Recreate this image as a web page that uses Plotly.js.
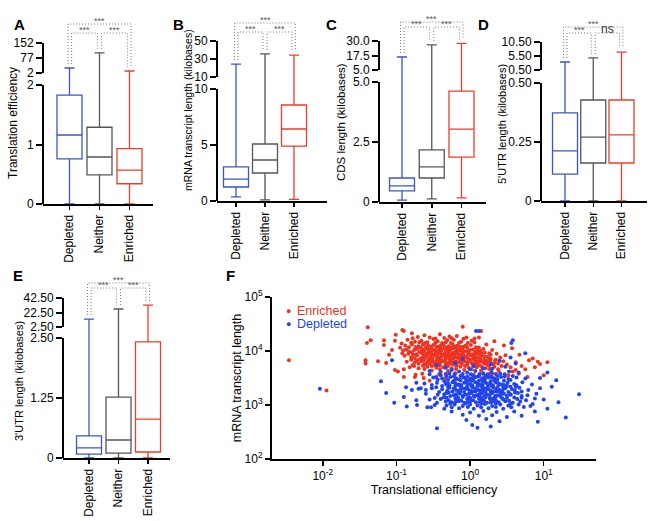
<!DOCTYPE html>
<html>
<head>
<meta charset="utf-8">
<script src="https://cdn.plot.ly/plotly-3.0.1.min.js"></script>
<style>
html, body { margin: 0; padding: 0; background: #fff; }
#chart { width: 654px; height: 521px; }
</style>
</head>
<body>
<div id="chart"></div>
<script>
const W = 654, H = 521;
const FONT = 'Liberation Sans, Arial, Helvetica, sans-serif';

const groups = ['Depleted', 'Neither', 'Enriched'];
const groupColors = ['#3a56c8', '#555555', '#e8402d'];

// box stats per group: [lower whisker, q1, median, q3, upper whisker]
const translationEff = [[0, 0.76, 1.16, 1.83, 27], [0, 0.49, 0.79, 1.29, 103], [0, 0.34, 0.57, 0.93, 12]];
const transcriptLen = [[0.36, 1.25, 1.96, 3.04, 24.4], [0.1, 2.5, 3.66, 5.09, 35.6], [0.15, 4.9, 6.43, 8.57, 34.4]];
const cdsLen = [[0.08, 0.46, 0.67, 1.0, 16.2], [0.13, 1.0, 1.46, 2.17, 26.6], [0.17, 1.87, 3.04, 4.62, 28.0]];
const utr5Len = [[0, 0.114, 0.212, 0.373, 3.36], [0, 0.161, 0.271, 0.428, 4.8], [0, 0.161, 0.28, 0.428, 6.9]];
const utr3Len = [[0, 0.08, 0.21, 0.46, 13.5], [0, 0.10, 0.375, 1.27, 27.3], [0, 0.125, 0.81, 2.42, 32.8]];

// tick labels: [lower segment, upper segment] of each broken axis
const teTicks = [['0', '1', '2'], ['2', '77', '152']];
const transcriptTicks = [['0', '5', '10'], ['10', '30', '50']];
const cdsTicks = [['0', '2.5', '5.0'], ['5.0', '17.5', '30.0']];
const utr5Ticks = [['0', '0.25', '0.50'], ['0.50', '5.50', '10.50']];
const utr3Ticks = [['0', '1.25', '2.50'], ['2.50', '22.50', '42.50']];

// significance: outer (Depleted-Enriched), Depleted-Neither, Neither-Enriched
const sigA = ['***', '***', '***'];
const sigB = ['***', '***', '***'];
const sigC = ['***', '***', '***'];
const sigD = ['***', '***', 'ns'];
const sigE = ['***', '***', '***'];

// panel F, log10 values: [translational efficiency, transcript length]
const enrichedName = 'Enriched';
const depletedName = 'Depleted';
const enrichedLog = [
  [-2.46,3.83],[-1.95,3.27],[-1.39,4.44],[-1.35,4.20],[-1.40,4.15],[-1.42,3.83],[-1.42,3.77],[-1.25,3.81],
  [-1.17,4.20],[-1.17,4.11],[-1.14,3.78],[-1.10,3.93],[-1.06,4.02],[-1.02,4.19],[-1.01,4.30],[-1.02,3.65],
  [-0.98,3.62],[-0.92,4.39],[-0.90,4.37],[-0.79,4.33],[-0.92,3.96],[-0.90,3.52],[-0.74,3.56],[-0.63,3.50],
  [-0.10,4.45],[0.15,4.37],[1.05,3.79],[0.92,3.80],[0.85,3.86],[0.67,3.93],[0.62,3.65],[0.88,3.70],
  [0.95,3.76],[1.00,3.55],[0.78,3.52],
  [-0.62,4.29],[-0.41,4.31],[-0.28,4.27],[-0.55,4.25],[-0.18,4.28],[-0.71,4.26],[-0.35,4.24],[-0.05,4.25],
  [-0.85,4.21],[-0.66,4.19],[-0.50,4.22],[-0.44,4.18],[-0.31,4.20],[-0.22,4.21],[-0.12,4.17],[-0.58,4.16],
  [-0.75,4.17],[-0.38,4.15],[0.02,4.19],[-0.93,4.14],
  [-0.88,4.10],[-0.79,4.12],[-0.70,4.09],[-0.63,4.13],[-0.57,4.10],[-0.49,4.12],[-0.43,4.08],[-0.36,4.11],
  [-0.29,4.09],[-0.24,4.13],[-0.17,4.10],[-0.09,4.08],[0.01,4.11],[0.08,4.07],[-0.67,4.06],[-0.53,4.05],
  [-0.40,4.04],[-0.19,4.05],[-0.95,4.06],
  [-0.91,4.01],[-0.83,3.99],[-0.76,4.02],[-0.69,3.98],[-0.62,4.01],[-0.56,3.99],[-0.50,4.02],[-0.45,3.98],
  [-0.39,4.01],[-0.33,3.99],[-0.27,4.02],[-0.21,3.98],[-0.14,4.01],[-0.07,3.99],[0.00,4.02],[0.07,3.98],
  [0.14,4.00],[-0.59,3.95],[-0.47,3.96],[-0.35,3.95],[-0.24,3.96],[-0.11,3.95],[0.03,3.94],[-0.73,3.94],
  [-0.84,3.95],
  [-0.89,3.91],[-0.80,3.89],[-0.72,3.92],[-0.65,3.88],[-0.60,3.91],[-0.54,3.89],[-0.48,3.92],[-0.42,3.88],
  [-0.37,3.91],[-0.31,3.89],[-0.26,3.92],[-0.19,3.88],[-0.13,3.91],[-0.06,3.89],[0.01,3.92],[0.08,3.88],
  [0.16,3.91],[0.24,3.89],[-0.68,3.85],[-0.57,3.84],[-0.45,3.85],[-0.34,3.84],[-0.23,3.86],[-0.10,3.84],
  [0.04,3.85],[0.19,3.84],[-0.80,3.84],
  [-0.86,3.80],[-0.75,3.79],[-0.66,3.81],[-0.59,3.78],[-0.51,3.80],[-0.44,3.79],[-0.38,3.81],[-0.30,3.78],
  [-0.22,3.80],[-0.15,3.79],[-0.07,3.81],[0.02,3.78],[0.10,3.80],[0.18,3.79],[0.27,3.81],[-0.62,3.75],
  [-0.48,3.74],[-0.33,3.75],[-0.18,3.74],[-0.04,3.75],[0.12,3.74],[0.30,3.76],[-0.78,3.74],
  [-0.82,3.70],[-0.70,3.68],[-0.58,3.71],[-0.46,3.69],[-0.36,3.70],[-0.25,3.68],[-0.13,3.71],[-0.02,3.69],
  [0.09,3.70],[0.21,3.68],[0.33,3.71],[-0.52,3.64],[-0.30,3.63],[-0.08,3.65],[0.15,3.64],[0.38,3.66],
  [-0.90,3.66],
  [-0.65,3.58],[-0.42,3.57],[-0.20,3.59],[0.05,3.56],[0.27,3.58],[-0.75,3.52],[-0.33,3.50],[0.18,3.52],
  [-0.55,3.45],
  [0.30,4.02],[0.36,3.95],[0.41,3.88],[0.45,3.81],[0.50,3.75],[0.55,3.70],[0.35,3.84],[0.26,3.96],
  [0.43,3.72],[0.58,3.62],[0.48,3.92],[0.62,3.79],[0.70,3.72],[0.66,3.58],[0.75,3.66],[0.52,3.55],
  [0.39,3.63],[0.30,3.58],[0.80,3.83],[0.57,4.05],[0.22,4.12],[0.33,4.18],[0.12,4.25],[0.46,4.10],
  [-0.80,4.155],[-0.69,4.16],[-0.61,4.15],[-0.47,4.155],[-0.33,4.16],[-0.26,4.15],[-0.15,4.155],[-0.03,4.15],
  [0.06,4.16],[-0.83,4.07],[-0.74,4.075],[-0.60,4.07],[-0.46,4.075],[-0.33,4.07],[-0.26,4.06],[-0.13,4.075],
  [-0.04,4.07],[0.12,4.065],[-0.87,4.03],[-0.72,4.035],[-0.65,4.03],[-0.53,4.035],[-0.42,4.03],[-0.30,4.035],
  [-0.17,4.03],[-0.10,4.035],[0.04,4.03],[0.18,4.035],[-0.79,3.97],[-0.66,3.965],[-0.53,3.97],[-0.41,3.965],
  [-0.29,3.97],[-0.17,3.965],[-0.02,3.97],[0.10,3.965],[0.20,3.97],[-0.77,3.93],[-0.63,3.935],[-0.51,3.93],
  [-0.39,3.935],[-0.28,3.93],[-0.16,3.935],[-0.03,3.93],[0.12,3.935],[0.28,3.93],[-0.75,3.865],[-0.62,3.87],
  [-0.51,3.865],[-0.40,3.87],[-0.29,3.865],[-0.16,3.87],[-0.03,3.865],[0.11,3.87],[0.26,3.865],[-0.72,3.825],
  [-0.63,3.82],[-0.52,3.825],[-0.41,3.82],[-0.27,3.825],[-0.13,3.82],[0.07,3.825],[0.22,3.82],[0.34,3.825],
  [-0.70,3.765],[-0.55,3.77],[-0.41,3.765],[-0.26,3.77],[-0.11,3.765],[0.05,3.77],[0.20,3.765],[0.38,3.77],
  [-0.76,3.72],[-0.64,3.725],[-0.52,3.72],[-0.41,3.725],[-0.30,3.72],[-0.19,3.725],[-0.07,3.72],[0.04,3.725],
  [0.15,3.72],[0.26,3.725],[-0.62,3.665],[-0.41,3.66],[-0.19,3.665],[0.02,3.66],[0.26,3.665],[-0.78,4.235],
  [-0.47,4.23],[-0.25,4.235],[-0.09,4.225],[0.06,4.23],
  [-0.64,4.115],[-0.52,4.09],[-0.40,4.095],[-0.21,4.09],[-0.06,4.10],[-0.58,4.045],[-0.47,4.015],[-0.35,4.05],
  [-0.24,4.045],[-0.13,4.045],[-0.03,4.005],[-0.63,3.985],[-0.42,3.98],[-0.30,4.005],[-0.18,3.99],[-0.10,3.975],
  [-0.56,3.945],[-0.44,3.95],[-0.32,3.925],[-0.21,3.945],[-0.09,3.925],[0.07,3.945],[-0.59,3.90],[-0.45,3.905],
  [-0.33,3.875],[-0.22,3.90],[-0.09,3.875],[0.04,3.90],[-0.54,3.855],[-0.40,3.845],[-0.27,3.85],[-0.13,3.855],
  [0.00,3.835],[0.14,3.855],[-0.57,3.805],[-0.46,3.81],[-0.34,3.795],[-0.19,3.805],[-0.03,3.795],[0.14,3.81],
  [-0.48,3.785],[-0.23,3.755],[0.08,3.755],[0.23,3.80],[0.20,3.90],[0.16,3.96],[0.10,4.01],[0.28,3.85],
  [0.33,3.78],[0.24,3.74]
];
const depletedLog = [
  [-2.04,3.30],[-1.21,3.44],[-1.14,3.22],[-1.03,3.04],[-1.06,3.83],[-0.87,3.33],[-0.73,3.09],[-0.72,3.00],
  [-0.58,2.96],[-0.53,2.96],[-0.45,2.57],[-0.67,3.31],[-0.60,3.28],[-0.52,3.37],[-0.46,3.52],[-0.79,3.28],
  [-0.73,3.41],[1.48,3.20],[1.30,2.77],[1.17,3.46],[1.11,3.34],[1.05,2.93],[0.92,2.69],[0.08,4.37],
  [0.12,4.37],[0.58,4.20],[0.56,4.15],[0.75,3.96],[0.03,2.63],[0.28,2.60],[0.10,2.58],[1.00,3.10],
  [1.05,3.60],[0.95,3.50],[0.88,2.88],[-0.90,3.15],[-0.86,2.97],[0.70,2.80],[0.85,3.02],[1.20,3.05],
  [-0.45,3.74],[-0.20,3.78],[0.05,3.72],[0.28,3.76],[0.48,3.71],[-0.33,3.69],[0.18,3.68],[0.62,3.77],
  [0.40,3.82],[-0.10,3.85],[0.55,3.88],
  [-0.40,3.61],[-0.28,3.59],[-0.15,3.62],[-0.04,3.60],[0.07,3.63],[0.18,3.59],[0.29,3.61],[0.41,3.58],
  [0.53,3.62],[0.66,3.60],[-0.55,3.57],[0.12,3.55],
  [-0.50,3.51],[-0.38,3.49],[-0.27,3.52],[-0.18,3.48],[-0.09,3.51],[0.00,3.49],[0.08,3.52],[0.16,3.48],
  [0.25,3.51],[0.33,3.49],[0.42,3.52],[0.52,3.48],[0.63,3.51],[0.75,3.49],[-0.22,3.45],[-0.05,3.44],
  [0.12,3.45],[0.28,3.44],[0.46,3.45],[-0.35,3.44],
  [-0.62,3.40],[-0.45,3.41],[-0.33,3.39],[-0.24,3.42],[-0.16,3.38],[-0.08,3.41],[0.00,3.39],[0.07,3.42],
  [0.14,3.38],[0.21,3.41],[0.28,3.39],[0.35,3.42],[0.43,3.38],[0.51,3.41],[0.60,3.39],[0.71,3.42],
  [0.84,3.38],[-0.20,3.35],[-0.04,3.34],[0.10,3.35],[0.24,3.34],[0.38,3.35],[0.55,3.34],[-0.38,3.35],
  [-0.70,3.30],[-0.52,3.31],[-0.38,3.29],[-0.28,3.32],[-0.19,3.28],[-0.11,3.31],[-0.03,3.29],[0.04,3.32],
  [0.11,3.28],[0.18,3.31],[0.25,3.29],[0.32,3.32],[0.40,3.28],[0.48,3.31],[0.57,3.29],[0.67,3.32],
  [0.79,3.28],[0.95,3.31],[-0.24,3.25],[-0.08,3.24],[0.07,3.25],[0.21,3.24],[0.36,3.25],[0.52,3.24],
  [0.70,3.25],[-0.42,3.24],
  [-0.60,3.21],[-0.44,3.19],[-0.32,3.22],[-0.22,3.18],[-0.14,3.21],[-0.06,3.19],[0.02,3.22],[0.09,3.18],
  [0.16,3.21],[0.23,3.19],[0.30,3.22],[0.38,3.18],[0.46,3.21],[0.55,3.19],[0.65,3.22],[0.78,3.18],
  [0.90,3.21],[-0.18,3.15],[-0.02,3.14],[0.13,3.15],[0.27,3.14],[0.42,3.15],[0.60,3.14],[-0.36,3.14],
  [-0.55,3.10],[-0.40,3.11],[-0.29,3.09],[-0.20,3.12],[-0.12,3.08],[-0.04,3.11],[0.04,3.09],[0.12,3.12],
  [0.19,3.08],[0.27,3.11],[0.35,3.09],[0.44,3.12],[0.53,3.08],[0.64,3.11],[0.76,3.09],[0.88,3.12],
  [-0.25,3.05],[-0.08,3.04],[0.08,3.05],[0.23,3.04],[0.39,3.05],[0.58,3.04],[-0.45,3.04],
  [-0.48,3.00],[-0.32,2.99],[-0.21,3.01],[-0.10,2.98],[0.00,3.01],[0.10,2.99],[0.20,3.02],[0.30,2.98],
  [0.41,3.01],[0.52,2.99],[0.66,3.01],[0.82,2.98],[-0.15,2.94],[0.05,2.93],[0.25,2.94],[0.45,2.93],
  [-0.35,2.93],
  [-0.25,2.88],[0.00,2.86],[0.18,2.89],[0.36,2.87],[0.60,2.88],[-0.10,2.82],[0.12,2.80],[0.30,2.81],
  [0.50,2.78],[0.22,2.74],[-0.05,2.72],[0.40,2.70],
  [-0.33,3.575],[-0.21,3.57],[-0.10,3.575],[0.01,3.57],[0.13,3.575],[0.24,3.57],[0.35,3.575],[0.47,3.57],
  [-0.32,3.535],[-0.22,3.53],[-0.13,3.535],[-0.04,3.53],[0.04,3.535],[0.12,3.53],[0.21,3.535],[0.29,3.53],
  [0.37,3.535],[0.47,3.53],[0.58,3.535],[-0.30,3.465],[-0.14,3.47],[-0.01,3.465],[0.04,3.47],[0.20,3.465],
  [0.37,3.47],[0.55,3.465],[-0.44,3.47],[-0.28,3.365],[-0.12,3.37],[0.03,3.365],[0.17,3.37],[0.31,3.365],
  [0.46,3.37],[0.63,3.365],[-0.31,3.265],[-0.15,3.27],[0.00,3.265],[0.14,3.27],[0.28,3.265],[0.44,3.27],
  [0.61,3.265],[-0.46,3.33],[-0.30,3.335],[-0.12,3.33],[0.03,3.335],[0.17,3.33],[0.31,3.335],[0.45,3.33],
  [0.62,3.335],[-0.27,3.165],[-0.10,3.17],[0.05,3.165],[0.20,3.17],[0.34,3.165],[0.50,3.17],[0.70,3.165],
  [-0.29,3.23],[-0.15,3.235],[0.00,3.23],[0.14,3.235],[0.29,3.23],[0.44,3.235],[0.61,3.23],[-0.33,3.065],
  [-0.16,3.07],[0.00,3.065],[0.15,3.07],[0.31,3.065],[0.48,3.07],[0.68,3.065],[-0.48,3.13],[-0.32,3.135],
  [-0.16,3.13],[0.00,3.135],[0.16,3.13],[0.33,3.135],[0.50,3.13],[0.70,3.135],[-0.27,3.025],[-0.06,3.03],
  [0.15,3.025],[0.35,3.03],[0.55,3.025],[-0.25,2.96],[-0.03,2.965],[0.15,2.96],[0.35,2.965],[0.56,2.96],
  [0.73,2.965],
  [-0.19,3.495],[-0.06,3.485],[0.05,3.50],[0.20,3.495],[0.30,3.505],[-0.13,3.455],[0.02,3.45],[0.17,3.44],
  [0.33,3.455],[-0.20,3.405],[-0.04,3.395],[0.10,3.405],[0.24,3.395],[0.39,3.405],[-0.14,3.355],[0.02,3.35],
  [0.15,3.345],[0.29,3.355],[-0.22,3.31],[-0.07,3.305],[0.08,3.30],[0.22,3.305],[0.36,3.30],[-0.13,3.255],
  [0.03,3.25],[0.18,3.255],[0.32,3.245],[-0.19,3.20],[-0.02,3.205],[0.12,3.195],[0.27,3.20],[0.42,3.205],
  [-0.10,3.15],[0.06,3.155],[0.21,3.145],[0.35,3.155],[-0.16,3.10],[0.00,3.10],[0.16,3.095],[0.31,3.105],
  [-0.04,3.05],[0.13,3.055],[0.28,3.045],[-0.20,3.055],[0.45,3.10],[0.40,3.25],[0.50,3.35],[-0.30,3.40],
  [0.55,3.20],[-0.35,3.20],[-0.55,3.63],[-0.25,3.65],[0.00,3.66],[0.30,3.67],[-0.40,3.55]
];
const fXTicks = ['10<sup>-2</sup>', '10<sup>-1</sup>', '10<sup>0</sup>', '10<sup>1</sup>'];
const fYTicks = ['10<sup>2</sup>', '10<sup>3</sup>', '10<sup>4</sup>', '10<sup>5</sup>'];
const fXVals = [0.01, 0.1, 1, 10];
const fYVals = [100, 1000, 10000, 100000];

// layout of the five box panels, in pixels of the 654x521 figure
const panels = [
  { letter: 'A', letterAt: [12, 14], title: 'Translation efficiency', titleAt: [13, 123], titleSize: 12,
    stats: translationEff, ticks: teTicks, sig: sigA,
    x0: 43, x1: 153, c0: 69.5, sp: 30, base: 204, loTop: 85, hiBot: 73, hiTop: 43, top: 14, brackets: [24, 33] },
  { letter: 'B', letterAt: [171, 14], title: 'mRNA transcript length (kilobases)', titleAt: [188, 110], titleSize: 10.5,
    stats: transcriptLen, ticks: transcriptTicks, sig: sigB,
    x0: 217, x1: 327, c0: 236, sp: 29, base: 201, loTop: 89, hiBot: 77, hiTop: 41, top: 14, brackets: [23, 32] },
  { letter: 'C', letterAt: [331, 14], title: 'CDS length (kilobases)', titleAt: [341, 122], titleSize: 11.5,
    stats: cdsLen, ticks: cdsTicks, sig: sigC,
    x0: 379, x1: 486, c0: 402, sp: 29.75, base: 202, loTop: 82, hiBot: 70, hiTop: 41, top: 12, brackets: [22, 27] },
  { letter: 'D', letterAt: [491, 14], title: "5'UTR length (kilobases)", titleAt: [502, 124], titleSize: 11,
    stats: utr5Len, ticks: utr5Ticks, sig: sigD,
    x0: 541, x1: 647, c0: 565, sp: 28.25, base: 201, loTop: 83, hiBot: 70, hiTop: 42, top: 14, brackets: [27, 33] },
  { letter: 'E', letterAt: [11, 275], title: "3'UTR length (kilobases)", titleAt: [19, 381], titleSize: 11,
    stats: utr3Len, ticks: utr3Ticks, sig: sigE,
    x0: 63, x1: 170, c0: 89, sp: 29.5, base: 458, loTop: 338, hiBot: 327, hiTop: 298, top: 272, brackets: [283, 288] }
];

const px2x = p => p / W;
const px2y = p => 1 - p / H;
const frac = (v, r) => (v - r[0]) / (r[1] - r[0]);

const data = [];
const shapes = [];
const annotations = [];
const layout = {
  width: W, height: H,
  margin: { l: 0, r: 0, t: 0, b: 0 },
  paper_bgcolor: '#fff', plot_bgcolor: 'rgba(0,0,0,0)',
  font: { family: FONT, color: '#000', size: 12 },
  showlegend: false
};

const yAxisBase = {
  ticks: 'outside', ticklen: 6, tickwidth: 2, tickcolor: '#000',
  showline: false, showgrid: false, zeroline: false,
  tickfont: { size: 12 }, fixedrange: true
};

panels.forEach((p, i) => {
  const xn = i + 1, ln = 2 * i + 1, hn = 2 * i + 2;
  const xRef = xn === 1 ? 'x' : 'x' + xn;
  const loRef = ln === 1 ? 'y' : 'y' + ln;
  const hiRef = 'y' + hn;

  const loVals = p.ticks[0].map(Number);
  const hiVals = p.ticks[1].map(Number);
  const loMax = loVals[loVals.length - 1];
  const hiMin = hiVals[0], hiMax = hiVals[hiVals.length - 1];

  const ub = loMax / (p.base - p.loTop);
  const uh = (hiMax - hiMin) / (p.hiBot - p.hiTop);
  const split = p.hiBot;
  const loRange = [0, (p.base - split) * ub];
  const hiRange = [hiMin, hiMin + (split - p.top) * uh];

  layout[xn === 1 ? 'xaxis' : 'xaxis' + xn] = {
    domain: [px2x(p.x0), px2x(p.x1)],
    range: [(p.x0 - p.c0) / p.sp, (p.x1 - p.c0) / p.sp],
    anchor: loRef,
    tickvals: [0, 1, 2], ticktext: groups, tickangle: -90,
    ticks: 'outside', ticklen: 4, tickwidth: 1.5, tickcolor: '#000',
    showline: true, linewidth: 2, linecolor: '#000',
    showgrid: false, zeroline: false, tickfont: { size: 12 }, fixedrange: true
  };
  layout[ln === 1 ? 'yaxis' : 'yaxis' + ln] = Object.assign({}, yAxisBase, {
    domain: [px2y(p.base), px2y(split)], range: loRange, anchor: xRef,
    tickvals: loVals, ticktext: p.ticks[0]
  });
  layout['yaxis' + hn] = Object.assign({}, yAxisBase, {
    domain: [px2y(split), px2y(p.top)], range: hiRange, anchor: xRef,
    tickvals: hiVals, ticktext: p.ticks[1]
  });

  // the two pieces of the broken y axis line
  shapes.push({ type: 'line', xref: xRef + ' domain', yref: loRef + ' domain',
    x0: 0, x1: 0, y0: 0, y1: frac(loMax, loRange), line: { color: '#000', width: 2 } });
  shapes.push({ type: 'line', xref: xRef + ' domain', yref: hiRef + ' domain',
    x0: 0, x1: 0, y0: 0, y1: frac(hiMax, hiRange), line: { color: '#000', width: 2 } });

  const below = hiRange[0] - (hiRange[1] - hiRange[0]);
  p.stats.forEach((s, g) => {
    const common = {
      type: 'box', orientation: 'v', x: [g], width: 25 / p.sp, whiskerwidth: 0.4,
      line: { color: groupColors[g], width: 1.3 }, fillcolor: 'rgba(0,0,0,0)',
      boxpoints: false, hoverinfo: 'skip', showlegend: false, xaxis: xRef
    };
    data.push(Object.assign({}, common, { yaxis: loRef,
      lowerfence: [s[0]], q1: [s[1]], median: [s[2]], q3: [s[3]], upperfence: [s[4]] }));
    // upper segment only shows the top whisker
    data.push(Object.assign({}, common, { yaxis: hiRef,
      lowerfence: [below], q1: [below], median: [below], q3: [below], upperfence: [s[4]] }));
  });

  // significance brackets
  const hv = py => hiMin + (split - py) * uh;
  const legEnd = g => p.stats[g][4] + 4 * uh;
  const defs = [
    [0, -0.05, 2, 0.05, p.brackets[0]],
    [0, 0.07, 1, -0.07, p.brackets[1]],
    [1, 0.07, 2, -0.07, p.brackets[1]]
  ];
  defs.forEach(([ga, da, gb, db, lvPx], k) => {
    const lv = hv(lvPx);
    data.push({
      type: 'scatter', mode: 'lines', xaxis: xRef, yaxis: hiRef,
      x: [ga + da, ga + da, gb + db, gb + db], y: [legEnd(ga), lv, lv, legEnd(gb)],
      line: { color: '#777', width: 1, dash: '1px,2px' }, hoverinfo: 'skip', showlegend: false
    });
    const ns = p.sig[k] === 'ns';
    annotations.push({
      xref: xRef, yref: hiRef, x: (ga + da + gb + db) / 2, y: lv, text: p.sig[k],
      showarrow: false, yanchor: 'bottom', yshift: ns ? -5 : -4,
      font: { size: ns ? 12 : 9, color: ns ? '#333' : '#555' }
    });
  });

  annotations.push({
    xref: 'paper', yref: 'paper', x: px2x(p.titleAt[0]), y: px2y(p.titleAt[1]),
    text: p.title, textangle: -90, showarrow: false, xanchor: 'center', yanchor: 'middle',
    font: { size: p.titleSize }
  });
  annotations.push({
    xref: 'paper', yref: 'paper', x: px2x(p.letterAt[0]), y: px2y(p.letterAt[1]),
    text: '<b>' + p.letter + '</b>', showarrow: false, font: { size: 15 }
  });
});

// panel F scatter
const pow10 = v => Math.pow(10, v);
data.push({
  type: 'scatter', mode: 'markers', xaxis: 'x6', yaxis: 'y11', name: enrichedName,
  x: enrichedLog.map(d => pow10(d[0])), y: enrichedLog.map(d => pow10(d[1])),
  marker: { color: '#ee3322', size: 4 }, hoverinfo: 'skip'
});
data.push({
  type: 'scatter', mode: 'markers', xaxis: 'x6', yaxis: 'y11', name: depletedName,
  x: depletedLog.map(d => pow10(d[0])), y: depletedLog.map(d => pow10(d[1])),
  marker: { color: '#2244ee', size: 4 }, hoverinfo: 'skip'
});

layout.xaxis6 = {
  domain: [px2x(272), px2x(596)], anchor: 'y11', type: 'log', range: [-2.69, 1.71],
  tickvals: fXVals, ticktext: fXTicks,
  ticks: 'outside', ticklen: 5, tickwidth: 1.5, tickcolor: '#000',
  showline: true, linewidth: 2, linecolor: '#000', showgrid: false, zeroline: false,
  tickfont: { size: 12 }, fixedrange: true,
  title: { text: 'Translational efficiency', font: { size: 12.5 }, standoff: 0 }
};
layout.yaxis11 = {
  domain: [px2y(459), px2y(297)], anchor: 'x6', type: 'log', range: [2, 5],
  tickvals: fYVals, ticktext: fYTicks,
  ticks: 'outside', ticklen: 5, tickwidth: 1.5, tickcolor: '#000',
  showline: true, linewidth: 2, linecolor: '#000', showgrid: false, zeroline: false,
  tickfont: { size: 12 }, fixedrange: true,
  title: { text: 'mRNA transcript length', font: { size: 12.5 }, standoff: 0 }
};

// legend drawn as coloured text, like the original
[[enrichedName, '#ee3322', 311], [depletedName, '#2244ee', 324]].forEach(([name, color, py]) => {
  annotations.push({ xref: 'paper', yref: 'paper', x: px2x(288), y: px2y(py), text: '●',
    showarrow: false, xanchor: 'center', yanchor: 'middle', font: { size: 9, color: color } });
  annotations.push({ xref: 'paper', yref: 'paper', x: px2x(295), y: px2y(py), text: name,
    showarrow: false, xanchor: 'left', yanchor: 'middle', font: { size: 12.5, color: color } });
});
annotations.push({ xref: 'paper', yref: 'paper', x: px2x(230), y: px2y(275), text: '<b>F</b>',
  showarrow: false, font: { size: 15 } });

layout.shapes = shapes;
layout.annotations = annotations;

Plotly.newPlot('chart', data, layout, { displayModeBar: false, staticPlot: true });
</script>
</body>
</html>
